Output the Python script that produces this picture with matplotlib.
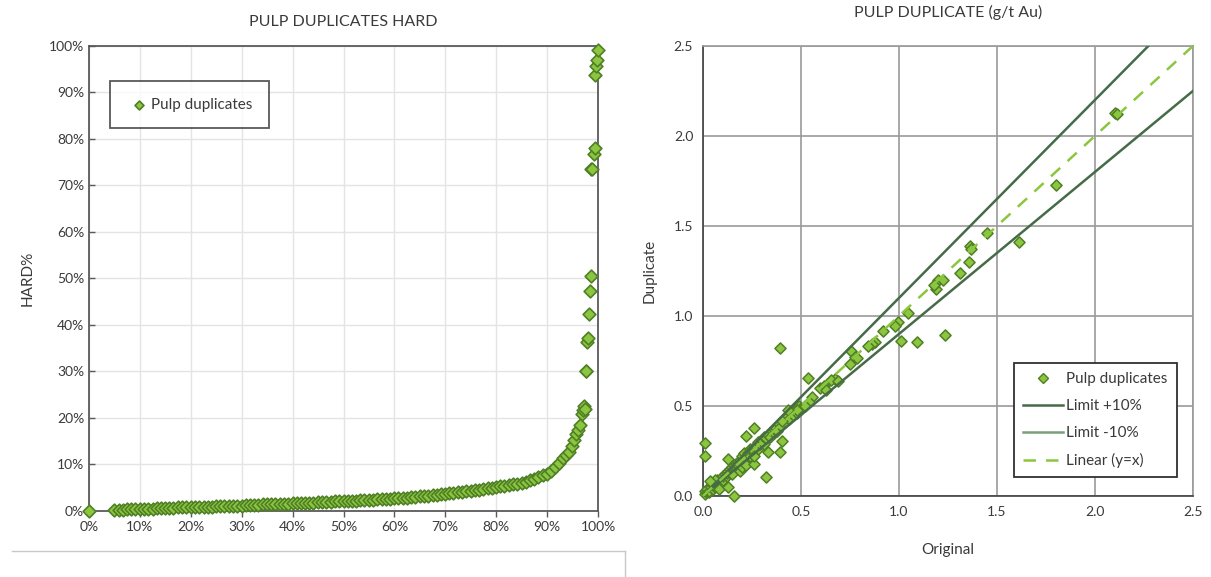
import numpy as np
import matplotlib
matplotlib.use("Agg")
import matplotlib.pyplot as plt
from matplotlib.ticker import FuncFormatter
from matplotlib.lines import Line2D

plt.rcParams['font.family'] = ['Lato', 'DejaVu Sans']

# ---- left chart: sorted HARD values vs. cumulative percentage ----
hard_x = [0, 5.0, 5.8, 6.6, 7.4, 8.3, 9.1, 10.0, 10.8, 11.6,
          12.5, 13.3, 14.1, 15.0, 15.8, 16.6, 17.5, 18.3, 19.1, 20.0,
          20.8, 21.6, 22.5, 23.3, 24.1, 25.0, 25.8, 26.6, 27.5, 28.3,
          29.1, 30.0, 30.8, 31.6, 32.5, 33.3, 34.1, 35.0, 35.8, 36.6,
          37.5, 38.3, 39.1, 40.0, 40.8, 41.6, 42.5, 43.3, 44.1, 45.0,
          45.8, 46.6, 47.5, 48.3, 49.1, 50.0, 50.8, 51.6, 52.5, 53.3,
          54.1, 55.0, 55.8, 56.6, 57.5, 58.3, 59.1, 60.0, 60.8, 61.6,
          62.5, 63.3, 64.1, 65.0, 65.8, 66.6, 67.5, 68.3, 69.1, 70.0,
          70.8, 71.6, 72.5, 73.3, 74.1, 75.0, 75.8, 76.6, 77.5, 78.3,
          79.1, 80.0, 80.8, 81.6, 82.5, 83.3, 84.1, 85.0, 85.8, 86.6,
          87.5, 88.3, 89.1, 90.0, 90.8, 91.6, 92.4, 93.1, 93.8, 94.4,
          94.9, 95.3, 95.7, 96.1, 96.5, 96.8, 97.1, 97.3, 97.5, 97.6,
          97.7, 97.9, 98.1, 98.3, 98.4, 98.6, 98.7, 98.8, 99.2, 99.4,
          99.5, 99.7, 99.8, 100]
hard_y = [0, 0.3, 0.3, 0.3, 0.35, 0.35, 0.4, 0.5, 0.5, 0.5,
          0.5, 0.55, 0.55, 0.55, 0.6, 0.6, 0.8, 0.8, 0.85, 0.85,
          0.85, 0.9, 0.9, 0.9, 0.95, 1.0, 1.1, 1.1, 1.1, 1.15,
          1.15, 1.15, 1.2, 1.2, 1.2, 1.3, 1.4, 1.45, 1.45, 1.5,
          1.5, 1.55, 1.6, 1.7, 1.7, 1.75, 1.75, 1.8, 1.8, 1.85,
          1.95, 2.0, 2.0, 2.05, 2.05, 2.1, 2.2, 2.25, 2.25, 2.3,
          2.3, 2.35, 2.4, 2.5, 2.55, 2.6, 2.65, 2.75, 2.8, 2.85,
          2.9, 2.95, 3.05, 3.15, 3.2, 3.3, 3.4, 3.5, 3.55, 3.7,
          3.8, 3.9, 4.0, 4.1, 4.2, 4.3, 4.45, 4.6, 4.75, 4.9,
          5.0, 5.15, 5.3, 5.45, 5.6, 5.75, 5.9, 6.05, 6.3, 6.6,
          6.9, 7.3, 7.7, 8.0, 8.6, 9.4, 10.4, 11.3, 12.0, 12.6,
          14.0, 15.3, 16.5, 17.5, 18.5, 20.8, 21.8, 22.5, 22.0, 30.2,
          30.2, 36.3, 37.2, 42.3, 47.2, 50.5, 73.5, 73.6, 76.8, 78.1,
          93.8, 95.6, 96.9, 99.2]

# ---- right chart: original vs duplicate (g/t Au) ----
orig = [0.01, 0.01, 0.02, 0.02, 0.03, 0.03, 0.04, 0.05, 0.05, 0.06,
        0.07, 0.07, 0.08, 0.09, 0.09, 0.10, 0.10, 0.11, 0.12, 0.12,
        0.13, 0.14, 0.14, 0.15, 0.16, 0.16, 0.17, 0.18, 0.18, 0.19,
        0.20, 0.20, 0.21, 0.22, 0.23, 0.24, 0.24, 0.25, 0.26, 0.27,
        0.28, 0.28, 0.29, 0.30, 0.31, 0.31, 0.32, 0.33, 0.34, 0.35,
        0.36, 0.36, 0.37, 0.38, 0.39, 0.40, 0.41, 0.42, 0.43, 0.44,
        0.45, 0.46, 0.47, 0.48, 0.49, 0.50, 0.15, 0.19, 0.20, 0.08,
        0.06, 0.22,
        2.10, 2.11, 1.80, 1.61, 1.45, 1.36, 1.37, 1.355, 1.31, 1.20,
        1.225, 1.19, 1.18, 1.234, 1.09, 1.01, 1.047, 0.997, 0.978, 0.92,
        0.88, 0.863, 0.844, 0.754, 0.777, 0.787, 0.752, 0.393, 0.535, 0.672,
        0.653, 0.691, 0.596, 0.615, 0.63, 0.558, 0.539, 0.52, 0.48, 0.434,
        0.405, 0.405, 0.395, 0.332, 0.323, 0.262, 0.22, 0.262, 0.262, 0.157,
        0.008, 0.008, 0.128, 0.128, 0.036]
dup = [0.01, 0.03, 0.02, 0.04, 0.02, 0.03, 0.05, 0.04, 0.06, 0.05,
       0.07, 0.09, 0.07, 0.08, 0.10, 0.09, 0.11, 0.12, 0.11, 0.13,
       0.14, 0.13, 0.15, 0.16, 0.15, 0.17, 0.18, 0.17, 0.19, 0.20,
       0.18, 0.22, 0.24, 0.21, 0.24, 0.22, 0.26, 0.26, 0.25, 0.28,
       0.26, 0.30, 0.29, 0.31, 0.29, 0.33, 0.32, 0.34, 0.33, 0.36,
       0.35, 0.37, 0.38, 0.36, 0.40, 0.39, 0.42, 0.41, 0.44, 0.43,
       0.47, 0.45, 0.48, 0.46, 0.50, 0.49, 0.12, 0.14, 0.16, 0.04,
       0.09, 0.17,
       2.13, 2.12, 1.73, 1.41, 1.46, 1.39, 1.37, 1.30, 1.24, 1.20,
       1.20, 1.15, 1.17, 0.897, 0.854, 0.862, 1.019, 0.968, 0.947, 0.917,
       0.856, 0.845, 0.835, 0.805, 0.774, 0.764, 0.733, 0.821, 0.658, 0.652,
       0.642, 0.636, 0.601, 0.611, 0.59, 0.55, 0.52, 0.50, 0.48, 0.479,
       0.418, 0.306, 0.245, 0.245, 0.106, 0.377, 0.336, 0.177, 0.224, 0.0,
       0.295, 0.22, 0.204, 0.051, 0.082]

limit_x = [0, 2.5]

face = '#8cc63f'
edge = '#4f7f26'
txt = '#3a3a3a'

fig = plt.figure(figsize=(12.11, 5.77), dpi=100)

# left
ax1 = fig.add_axes([0.0735, 0.1144, 0.4203, 0.806])
ax1.scatter(hard_x, hard_y, marker='D', s=42, facecolor=face, edgecolor=edge,
            linewidth=1.2, zorder=3, clip_on=False, label='Pulp duplicates')
ax1.set_xlim(0, 100)
ax1.set_ylim(0, 100)
ax1.set_xticks(np.arange(0, 101, 10))
ax1.set_yticks(np.arange(0, 101, 10))
pct = FuncFormatter(lambda v, p: '%d%%' % v)
ax1.xaxis.set_major_formatter(pct)
ax1.yaxis.set_major_formatter(pct)
ax1.grid(True, color='#e4e4e4', linewidth=1.0)
ax1.set_axisbelow(True)
for s in ax1.spines.values():
    s.set_color('#5a5a5a')
    s.set_linewidth(1.3)
ax1.tick_params(axis='both', labelsize=10, colors='#5a5a5a', labelcolor=txt,
                length=4, width=1.0)
ax1.tick_params(axis='y', length=4, direction='in')
ax1.set_title('PULP DUPLICATES HARD', fontsize=11.5, color=txt, pad=14)
ax1.set_ylabel('HARD%', fontsize=11, color=txt, labelpad=10)
leg1 = ax1.legend(loc='upper left', bbox_to_anchor=(0.041, 0.925), fontsize=11,
                  frameon=True, fancybox=False, borderpad=1.1, handletextpad=0.0,
                  handlelength=1.6, borderaxespad=0, markerscale=0.7)
leg1.get_frame().set_edgecolor('#303030')
leg1.get_frame().set_linewidth(1.3)
for t in leg1.get_texts():
    t.set_color(txt)

# right
ax2 = fig.add_axes([0.5805, 0.1404, 0.4046, 0.780])
ax2.scatter(orig, dup, marker='D', s=32, facecolor=face, edgecolor=edge,
            linewidth=1.1, zorder=3, clip_on=False)
ax2.plot(limit_x, [v * 1.1 for v in limit_x], color='#466b48', linewidth=1.8, zorder=4)
ax2.plot(limit_x, [v * 0.9 for v in limit_x], color='#466b48', linewidth=1.8, zorder=4)
ax2.plot(limit_x, limit_x, color='#8cc63f', linewidth=1.8, dashes=(5, 4), zorder=4)
ax2.set_xlim(0, 2.5)
ax2.set_ylim(0, 2.5)
ticks = [0, 0.5, 1.0, 1.5, 2.0, 2.5]
ax2.set_xticks(ticks)
ax2.set_yticks(ticks)
ax2.xaxis.set_major_formatter(FuncFormatter(lambda v, p: '%.1f' % v))
ax2.yaxis.set_major_formatter(FuncFormatter(lambda v, p: '%.1f' % v))
ax2.grid(True, color='#9a9a9a', linewidth=1.2)
ax2.set_axisbelow(True)
for s in ax2.spines.values():
    s.set_color('#9a9a9a')
    s.set_linewidth(1.2)
ax2.spines['left'].set_color('#404040')
ax2.spines['bottom'].set_color('#404040')
ax2.tick_params(axis='both', labelsize=10, labelcolor=txt, length=0, pad=7)
ax2.set_title('PULP DUPLICATE (g/t Au)', fontsize=11.5, color=txt, pad=21)
ax2.set_xlabel('Original', fontsize=11, color=txt, labelpad=18)
ax2.set_ylabel('Duplicate', fontsize=11, color=txt, labelpad=12)

handles = [
    Line2D([], [], linestyle='none', marker='D', markersize=5,
           markerfacecolor=face, markeredgecolor=edge),
    Line2D([], [], color='#466b48', linewidth=1.8),
    Line2D([], [], color='#7aa07a', linewidth=1.8),
    Line2D([], [], color='#8cc63f', linewidth=1.8, dashes=(5, 4)),
]
labels = ['Pulp duplicates', 'Limit +10%', 'Limit -10%', 'Linear (y=x)']
leg2 = ax2.legend(handles, labels, loc='lower right', bbox_to_anchor=(0.967, 0.042),
                  fontsize=11, frameon=True, fancybox=False, borderpad=0.6,
                  handlelength=2.6, handletextpad=0.2, labelspacing=0.85,
                  borderaxespad=0, framealpha=1)
leg2.get_frame().set_edgecolor('#303030')
leg2.get_frame().set_linewidth(1.3)
for t in leg2.get_texts():
    t.set_color(txt)

# frame fragment at the bottom left
fig.add_artist(Line2D([12 / 1211, 625 / 1211], [1 - 551 / 577, 1 - 551 / 577],
                      color='#c8c8c8', linewidth=1.0))
fig.add_artist(Line2D([625 / 1211, 625 / 1211], [0, 1 - 551 / 577],
                      color='#c8c8c8', linewidth=1.0))

fig.savefig('out.png', dpi=100)
